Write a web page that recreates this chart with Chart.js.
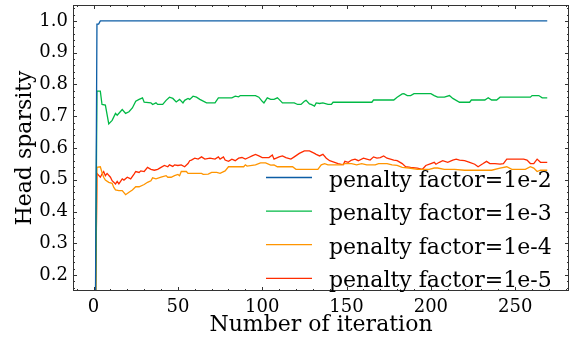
<!DOCTYPE html>
<html lang="en">

<head>
    <meta charset="UTF-8">
    <script src="https://cdn.jsdelivr.net/npm/chart.js"></script>
    <title>Head sparsity</title>
    <style>
        body { margin: 0; background: #fff; }
        canvas { display: block; }
    </style>
</head>

<body>
    <canvas id="grafico" width="575" height="342"></canvas>

<script>
// [iteration, head sparsity] for each penalty factor
const penalty_1e2 = [[1, 0.0], [2, 0.99], [3, 0.99], [4, 1.0], [269, 1.0]];

const penalty_1e3 = [[1, 0.0], [2, 0.779], [4, 0.779], [5, 0.737], [7, 0.735], [9, 0.676], [11, 0.687], [13, 0.709], [14, 0.703],
    [17, 0.721], [19, 0.709], [21, 0.714], [23, 0.726], [25, 0.747], [27, 0.753], [29, 0.758], [30, 0.744], [34, 0.742],
    [35, 0.737], [37, 0.742], [38, 0.737], [41, 0.737], [43, 0.750], [45, 0.760], [47, 0.756], [49, 0.745], [51, 0.753],
    [53, 0.742], [54, 0.750], [56, 0.756], [57, 0.753], [59, 0.763], [61, 0.760], [63, 0.753], [67, 0.742], [72, 0.742],
    [74, 0.758], [82, 0.758], [84, 0.763], [86, 0.761], [87, 0.765], [96, 0.765], [98, 0.760], [100, 0.747], [101, 0.742],
    [103, 0.758], [105, 0.753], [107, 0.753], [109, 0.758], [110, 0.753], [112, 0.742], [119, 0.742], [121, 0.737],
    [123, 0.737], [125, 0.747], [126, 0.750], [128, 0.739], [129, 0.737], [131, 0.732], [132, 0.742], [134, 0.740],
    [136, 0.742], [139, 0.737], [141, 0.737], [142, 0.744], [165, 0.744], [166, 0.751], [178, 0.751], [180, 0.760],
    [183, 0.770], [184, 0.771], [186, 0.765], [188, 0.765], [190, 0.771], [200, 0.771], [202, 0.765], [204, 0.760],
    [208, 0.760], [211, 0.765], [213, 0.756], [217, 0.744], [223, 0.744], [224, 0.751], [232, 0.751], [234, 0.758],
    [236, 0.751], [239, 0.751], [241, 0.760], [259, 0.760], [260, 0.765], [264, 0.765], [266, 0.758], [269, 0.758]];

const penalty_1e4 = [[1, 0.0], [2, 0.539], [4, 0.541], [5, 0.523], [6, 0.508], [7, 0.499], [9, 0.492], [11, 0.489], [12, 0.476],
    [13, 0.468], [15, 0.466], [17, 0.466], [19, 0.453], [21, 0.461], [23, 0.468], [25, 0.478], [27, 0.478], [30, 0.485],
    [32, 0.492], [34, 0.497], [35, 0.506], [37, 0.503], [40, 0.508], [43, 0.513], [44, 0.508], [46, 0.508], [48, 0.513],
    [50, 0.517], [51, 0.513], [52, 0.526], [55, 0.526], [56, 0.520], [64, 0.520], [65, 0.517], [68, 0.518], [70, 0.523],
    [73, 0.523], [75, 0.520], [78, 0.528], [80, 0.541], [89, 0.541], [90, 0.547], [91, 0.543], [96, 0.547], [99, 0.553],
    [102, 0.553], [105, 0.546], [107, 0.547], [109, 0.541], [118, 0.541], [120, 0.533], [133, 0.533], [135, 0.547],
    [137, 0.551], [139, 0.547], [141, 0.547], [147, 0.547], [149, 0.551], [153, 0.551], [156, 0.547], [159, 0.551],
    [162, 0.547], [167, 0.547], [169, 0.551], [174, 0.551], [177, 0.547], [180, 0.545], [183, 0.539], [187, 0.537],
    [192, 0.533], [199, 0.533], [202, 0.537], [204, 0.537], [208, 0.533], [214, 0.533], [220, 0.530], [236, 0.530],
    [241, 0.537], [245, 0.541], [248, 0.533], [256, 0.533], [259, 0.541], [261, 0.537], [263, 0.526], [265, 0.530],
    [269, 0.530]];

const penalty_1e5 = [[1, 0.0], [2, 0.520], [4, 0.508], [5, 0.518], [6, 0.526], [7, 0.513], [8, 0.520], [10, 0.508], [11, 0.497],
    [13, 0.487], [14, 0.495], [15, 0.487], [17, 0.503], [18, 0.499], [20, 0.508], [22, 0.503], [24, 0.518], [25, 0.526],
    [27, 0.523], [28, 0.528], [30, 0.526], [32, 0.539], [34, 0.533], [36, 0.530], [38, 0.533], [40, 0.539], [42, 0.545],
    [44, 0.541], [45, 0.547], [47, 0.542], [48, 0.547], [50, 0.545], [52, 0.547], [54, 0.541], [56, 0.551], [57, 0.560],
    [58, 0.562], [60, 0.568], [62, 0.565], [64, 0.572], [66, 0.565], [69, 0.568], [72, 0.565], [74, 0.572], [75, 0.565],
    [77, 0.572], [78, 0.562], [80, 0.558], [82, 0.565], [84, 0.560], [86, 0.568], [88, 0.570], [90, 0.565], [92, 0.570],
    [94, 0.575], [96, 0.580], [98, 0.575], [100, 0.570], [104, 0.570], [106, 0.578], [107, 0.565], [110, 0.572],
    [112, 0.575], [114, 0.570], [117, 0.565], [119, 0.572], [122, 0.583], [125, 0.591], [128, 0.591], [131, 0.583],
    [132, 0.580], [134, 0.575], [136, 0.580], [138, 0.568], [140, 0.560], [145, 0.551], [148, 0.547], [149, 0.558],
    [151, 0.555], [153, 0.562], [155, 0.565], [157, 0.560], [160, 0.568], [162, 0.565], [164, 0.562], [166, 0.572],
    [168, 0.568], [170, 0.570], [172, 0.575], [174, 0.568], [176, 0.565], [178, 0.562], [180, 0.560], [183, 0.551],
    [185, 0.541], [188, 0.539], [192, 0.537], [195, 0.533], [197, 0.545], [200, 0.551], [202, 0.555], [203, 0.549],
    [205, 0.555], [207, 0.560], [210, 0.555], [213, 0.562], [215, 0.565], [217, 0.562], [220, 0.560], [223, 0.555],
    [226, 0.549], [228, 0.541], [231, 0.551], [233, 0.558], [235, 0.551], [238, 0.551], [241, 0.549], [243, 0.551],
    [245, 0.565], [248, 0.565], [255, 0.565], [257, 0.562], [259, 0.551], [261, 0.551], [263, 0.565], [265, 0.555],
    [269, 0.555]];

const legendas = ['penalty factor=1e-2', 'penalty factor=1e-3', 'penalty factor=1e-4', 'penalty factor=1e-5'];
const cores = ['#0C5DA5', '#00B945', '#FF9500', '#FF2C00'];
const series = [penalty_1e2, penalty_1e3, penalty_1e4, penalty_1e5];

// ticks principais dos eixos
const ticksX = [0, 50, 100, 150, 200, 250];
const ticksY = [0.2, 0.3, 0.4, 0.5, 0.6, 0.7, 0.8, 0.9, 1.0];

const fonte = 'DejaVu Serif';

// moldura com ticks para dentro nos quatro lados (major + minor)
const moldura = {
    id: 'moldura',
    afterDraw(chart) {
        const { ctx, chartArea: a, scales: { x, y } } = chart;
        ctx.save();
        ctx.strokeStyle = '#333';
        ctx.lineWidth = 1;
        ctx.strokeRect(a.left + 0.5, a.top + 0.5, a.right - a.left - 1, a.bottom - a.top - 1);

        ctx.beginPath();
        for (let v = -10; v <= 280; v += 10) {
            const p = Math.round(x.getPixelForValue(v)) + 0.5;
            if (p <= a.left + 1 || p >= a.right - 1) continue;
            const len = v % 50 === 0 ? 4 : 2;
            ctx.moveTo(p, a.bottom); ctx.lineTo(p, a.bottom - len);
            ctx.moveTo(p, a.top); ctx.lineTo(p, a.top + len);
        }
        for (let k = 8; k <= 52; k++) {
            const p = Math.round(y.getPixelForValue(k / 50)) + 0.5;
            if (p <= a.top + 1 || p >= a.bottom - 1) continue;
            const len = k % 5 === 0 ? 4 : 2;
            ctx.moveTo(a.left, p); ctx.lineTo(a.left + len, p);
            ctx.moveTo(a.right, p); ctx.lineTo(a.right - len, p);
        }
        ctx.stroke();
        ctx.restore();
    }
};

// legenda sem moldura, dentro da area do grafico
const legendaPlot = {
    id: 'legendaPlot',
    afterDraw(chart) {
        const ctx = chart.ctx;
        ctx.save();
        ctx.font = `22px "${fonte}"`;
        ctx.fillStyle = '#000';
        ctx.textBaseline = 'alphabetic';
        for (let i = 0; i < legendas.length; i++) {
            const yl = 177.5 + i * 33.6;
            ctx.strokeStyle = cores[i];
            ctx.lineWidth = 1.3;
            ctx.beginPath();
            ctx.moveTo(266, yl);
            ctx.lineTo(312, yl);
            ctx.stroke();
            ctx.fillText(legendas[i], 329, yl + 9);
        }
        ctx.restore();
    }
};

let datasets = [];
for (let i = 0; i < series.length; i++) {
    datasets.push({
        label: legendas[i],
        data: series[i].map(p => ({ x: p[0], y: p[1] })),
        borderColor: cores[i],
        backgroundColor: cores[i],
        borderWidth: 1.3,
        pointRadius: 0,
        tension: 0,
        fill: false,
        clip: 0
    });
}

// tira a folga que o Chart.js reserva para os rotulos das pontas
function semFolga(escala) {
    escala.paddingTop = 0;
    escala.paddingBottom = 0;
    escala.paddingLeft = 0;
    escala.paddingRight = 0;
}

const config = {
    type: 'line',
    data: { datasets: datasets },
    options: {
        responsive: false,
        animation: false,
        devicePixelRatio: 1,
        layout: { padding: { top: 5, right: 6, left: 0, bottom: 0 } },
        plugins: {
            legend: { display: false },
            tooltip: { enabled: false }
        },
        scales: {
            x: {
                type: 'linear',
                bounds: 'data',
                min: -12.2,
                max: 281.9,
                grid: { display: false, drawTicks: false },
                border: { display: false },
                afterBuildTicks: (escala) => { escala.ticks = ticksX.map(v => ({ value: v })); },
                ticks: {
                    maxRotation: 0,
                    autoSkip: false,
                    padding: 6,
                    color: '#000',
                    font: { family: fonte, size: 18 },
                    callback: (v) => String(v)
                },
                title: {
                    display: true,
                    text: 'Number of iteration',
                    color: '#000',
                    font: { family: fonte, size: 22 },
                    padding: { top: 0, bottom: 4 }
                },
                afterFit: (escala) => { escala.height = 51; semFolga(escala); }
            },
            y: {
                type: 'linear',
                bounds: 'data',
                min: 0.15,
                max: 1.05,
                grid: { display: false, drawTicks: false },
                border: { display: false },
                afterBuildTicks: (escala) => { escala.ticks = ticksY.map(v => ({ value: v })); },
                ticks: {
                    autoSkip: false,
                    padding: 5,
                    color: '#000',
                    font: { family: fonte, size: 18 },
                    callback: (v) => v.toFixed(1)
                },
                title: {
                    display: true,
                    text: 'Head sparsity',
                    color: '#000',
                    font: { family: fonte, size: 22 },
                    padding: { top: 12, bottom: 0 }
                },
                afterFit: (escala) => { escala.width = 73; semFolga(escala); }
            }
        }
    },
    plugins: [moldura, legendaPlot]
};

let meuGrafico = new Chart(document.getElementById('grafico'), config);
</script>
</body>

</html>
